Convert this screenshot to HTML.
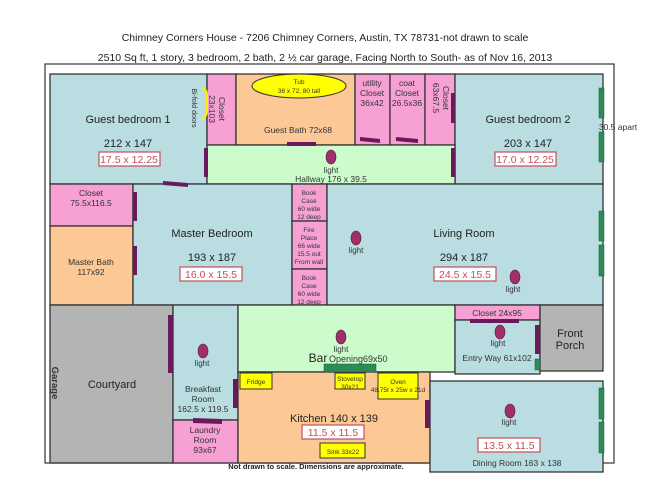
<!DOCTYPE html>
<html><head><meta charset="utf-8"><style>
html,body{margin:0;padding:0;background:#fff;}
svg{display:block;font-family:"Liberation Sans",Arial,sans-serif;}
</style></head><body>
<svg width="650" height="502" viewBox="0 0 650 502" xmlns="http://www.w3.org/2000/svg">
<g fill="#222" font-size="10.5" text-anchor="middle">
<text x="325" y="41">Chimney Corners House - 7206 Chimney Corners, Austin, TX 78731-not drawn to scale</text>
<text x="325" y="61">2510 Sq ft, 1 story, 3 bedroom, 2 bath, 2 ½ car garage, Facing North to South- as of Nov 16, 2013</text>
</g>
<rect x="45" y="64" width="569" height="399" fill="#fff" stroke="#333" stroke-width="1.2"/>
<g stroke="#333" stroke-width="1.3">
<rect x="50" y="74" width="157" height="110" fill="#b9dde0"/>
<rect x="207" y="74" width="29" height="71" fill="#f7a0d4"/>
<rect x="236" y="74" width="119" height="71" fill="#fcc896"/>
<rect x="355" y="74" width="35" height="71" fill="#f7a0d4"/>
<rect x="390" y="74" width="35" height="71" fill="#f7a0d4"/>
<rect x="425" y="74" width="30" height="71" fill="#f7a0d4"/>
<rect x="455" y="74" width="148" height="110" fill="#b9dde0"/>
<rect x="207" y="145" width="248" height="39" fill="#ccfccc"/>
<rect x="50" y="184" width="83" height="42" fill="#f7a0d4"/>
<rect x="50" y="226" width="83" height="79" fill="#fcc896"/>
<rect x="133" y="184" width="159" height="121" fill="#b9dde0"/>
<rect x="292" y="184" width="35" height="37" fill="#f7a0d4"/>
<rect x="292" y="221" width="35" height="48" fill="#f7a0d4"/>
<rect x="292" y="269" width="35" height="36" fill="#f7a0d4"/>
<rect x="327" y="184" width="276" height="121" fill="#b9dde0"/>
<rect x="50" y="305" width="123" height="158" fill="#b4b4b4"/>
<rect x="173" y="305" width="65" height="115" fill="#b9dde0"/>
<rect x="173" y="420" width="65" height="43" fill="#f7a0d4"/>
<rect x="238" y="305" width="217" height="67" fill="#ccfccc"/>
<rect x="455" y="305" width="85" height="15" fill="#f7a0d4"/>
<rect x="455" y="320" width="85" height="54" fill="#b9dde0"/>
<rect x="540" y="305" width="63" height="66" fill="#b4b4b4"/>
<rect x="238" y="372" width="192" height="91" fill="#fcc896"/>
<rect x="430" y="381" width="173" height="91" fill="#b9dde0"/>
</g>
<g fill="#fff" stroke="#c0505a" stroke-width="1.2">
<rect x="99" y="152" width="61" height="14"/>
<rect x="495" y="152" width="61" height="14"/>
<rect x="180" y="267" width="62" height="14"/>
<rect x="434" y="267" width="62" height="14"/>
<rect x="302" y="425" width="62" height="14"/>
<rect x="478" y="438" width="62" height="14"/>
</g>
<g fill="#ffff00" stroke="#333" stroke-width="1">
<ellipse cx="299" cy="86" rx="47" ry="12"/>
<rect x="240" y="373" width="32" height="16"/>
<rect x="335" y="373" width="30" height="16"/>
<rect x="378" y="373" width="40" height="26"/>
<rect x="320" y="443" width="45" height="15"/>
</g>
<path d="M201 88 Q207 88 207 96 L207 110 Q207 118 201 118" fill="none" stroke="#ffee00" stroke-width="2"/>
<g fill="#6a1a5a">
<rect x="204" y="148" width="4" height="29"/>
<polygon points="163,181 188,183 188,187 163,185"/>
<rect x="287" y="142" width="29" height="4"/>
<polygon points="360,137 380,139 380,143 360,141"/>
<polygon points="396,137 418,139 418,143 396,141"/>
<rect x="451" y="93" width="4" height="30"/>
<rect x="451" y="148" width="4" height="29"/>
<rect x="133" y="192" width="4" height="29"/>
<rect x="133" y="246" width="4" height="29"/>
<rect x="168" y="315" width="5" height="58"/>
<rect x="233" y="379" width="5" height="29"/>
<polygon points="193,418 222,419 222,424 193,423"/>
<rect x="470" y="319" width="49" height="4"/>
<rect x="535" y="325" width="5" height="29"/>
<rect x="425" y="400" width="5" height="28"/>
</g>
<g fill="#2e8b57" stroke="#1a5a35" stroke-width="0.5">
<rect x="599" y="88" width="5" height="30"/>
<rect x="599" y="132" width="5" height="30"/>
<rect x="599" y="211" width="5" height="30"/>
<rect x="599" y="245" width="5" height="31"/>
<rect x="599" y="388" width="5" height="31"/>
<rect x="599" y="422" width="5" height="31"/>
<rect x="535" y="359" width="5" height="11"/>
<rect x="324" y="364" width="52" height="8"/>
</g>
<g fill="#a0306a" stroke="#5a1a3a" stroke-width="0.6">
<ellipse cx="331" cy="157" rx="5" ry="7"/>
<ellipse cx="356" cy="238" rx="5" ry="7"/>
<ellipse cx="515" cy="277" rx="5" ry="7"/>
<ellipse cx="341" cy="337" rx="5" ry="7"/>
<ellipse cx="500" cy="332" rx="5" ry="7"/>
<ellipse cx="203" cy="351" rx="5" ry="7"/>
<ellipse cx="510" cy="411" rx="5" ry="7"/>
</g>
<g fill="#333" font-size="8" text-anchor="middle">
<text x="331" y="173">light</text>
<text x="356" y="253">light</text>
<text x="513" y="292">light</text>
<text x="341" y="352">light</text>
<text x="498" y="346">light</text>
<text x="202" y="366">light</text>
<text x="509" y="425">light</text>
</g>
<g fill="#222" text-anchor="middle" font-size="11">
<text x="128" y="123">Guest bedroom 1</text>
<text x="128" y="147">212 x 147</text>
<text x="528" y="123">Guest bedroom 2</text>
<text x="528" y="147">203 x 147</text>
<text x="212" y="237">Master Bedroom</text>
<text x="212" y="261">193 x 187</text>
<text x="464" y="237">Living Room</text>
<text x="464" y="261">294 x 187</text>
<text x="112" y="388">Courtyard</text>
<text x="570" y="337">Front</text>
<text x="570" y="349">Porch</text>
<text x="334" y="422">Kitchen 140 x 139</text>
</g>
<g fill="#c0505a" text-anchor="middle" font-size="10.5">
<text x="129" y="163">17.5 x 12.25</text>
<text x="525" y="163">17.0 x 12.25</text>
<text x="211" y="278">16.0 x 15.5</text>
<text x="465" y="278">24.5 x 15.5</text>
<text x="333" y="436">11.5 x 11.5</text>
<text x="509" y="449">13.5 x 11.5</text>
</g>
<g fill="#333" text-anchor="middle" font-size="8.5">
<text x="298" y="133">Guest Bath 72x68</text>
<text x="372" y="86">utility</text><text x="372" y="96">Closet</text><text x="372" y="106">36x42</text>
<text x="407" y="86">coat</text><text x="407" y="96">Closet</text><text x="407" y="106">26.5x36</text>
<text x="331" y="182">Hallway 176 x 39.5</text>
<text x="91" y="196">Closet</text><text x="91" y="206">75.5x116.5</text>
<text x="91" y="265">Master Bath</text><text x="91" y="275">117x92</text>
<text x="497" y="316">Closet 24x95</text>
<text x="497" y="361">Entry Way 61x102</text>
<text x="203" y="392">Breakfast</text><text x="203" y="402">Room</text><text x="203" y="412">162.5 x 119.5</text>
<text x="205" y="433">Laundry</text><text x="205" y="443">Room</text><text x="205" y="453">93x67</text>
<text x="517" y="466">Dining Room 163 x 138</text>
<text x="618" y="130">30.5 apart</text>
</g>
<g fill="#333" text-anchor="middle" font-size="6.5">
<text x="309" y="195">Book</text><text x="309" y="203">Case</text><text x="309" y="211">60 wide</text><text x="309" y="219">12 deep</text>
<text x="309" y="232">Fire</text><text x="309" y="240">Place</text><text x="309" y="248">66 wide</text><text x="309" y="256">15.5 out</text><text x="309" y="264">From wall</text>
<text x="309" y="280">Book</text><text x="309" y="288">Case</text><text x="309" y="296">60 wide</text><text x="309" y="304">12 deep</text>
<text x="299" y="84">Tub</text><text x="299" y="93">36 x 72, 80 tall</text>
<text x="256" y="384">Fridge</text>
<text x="350" y="381">Stovetop</text><text x="350" y="389">30x21</text>
<text x="398" y="384">Oven</text><text x="398" y="392">48.75t x 25w x 21d</text>
<text x="343" y="454">Sink 33x22</text>
</g>
<g fill="#333" font-size="8.5" text-anchor="middle">
<text transform="translate(219,109) rotate(90)">Closet</text>
<text transform="translate(209,109) rotate(90)">23x103</text>
<text transform="translate(443,98) rotate(90)">Closet</text>
<text transform="translate(433,98) rotate(90)">63x67.5</text>
<text transform="translate(192,108) rotate(90)" font-size="7">Bi-fold doors</text>
<text transform="translate(52,383) rotate(90)" font-weight="bold" font-size="9.5">Garage</text>
</g>
<text x="318" y="362" font-size="12" fill="#222" text-anchor="middle">Bar</text>
<text x="329" y="362" font-size="9" fill="#333">Opening69x50</text>
<text x="316" y="469" font-size="7.5" font-weight="bold" fill="#222" text-anchor="middle">Not drawn to scale.  Dimensions are approximate.</text>
</svg>
</body></html>
